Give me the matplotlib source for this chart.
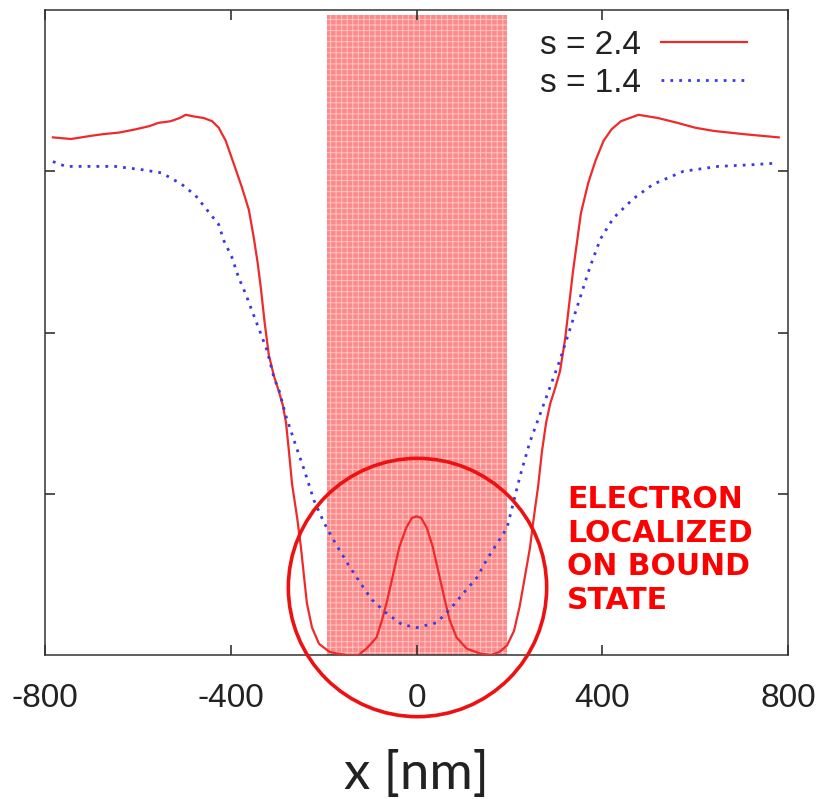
import matplotlib
matplotlib.use("Agg")
import matplotlib.pyplot as plt

plt.rcParams["axes.unicode_minus"] = False
plt.rcParams["hatch.linewidth"] = 0.7

# s = 2.4 (solid red)
x_red = [-783, -744, -700, -675, -640, -605, -575, -556, -530, -510, -497, -480, -458,
         -440, -426, -411, -394, -376, -361, -350, -342, -335, -327, -318, -307, -297,
         -288, -281, -275, -268, -257, -249, -242, -236, -225, -210, -188, -173, -150,
         -125, -108, -95, -86, -74, -63, -52, -37, -22, -10, 0, 10, 22, 35, 50, 61, 71,
         86, 108, 136, 160, 179, 195, 210, 222, 233, 244, 252, 262, 270, 279, 288, 298,
         309, 320, 337, 354, 370, 386, 403, 420, 440, 478, 520, 562, 600, 640, 705, 780]
y_red = [3.21, 3.20, 3.22, 3.23, 3.24, 3.26, 3.28, 3.30, 3.31, 3.33, 3.35, 3.34, 3.33,
         3.31, 3.27, 3.19, 3.05, 2.90, 2.76, 2.58, 2.43, 2.27, 2.06, 1.86, 1.73, 1.64,
         1.55, 1.44, 1.27, 1.06, 0.85, 0.67, 0.48, 0.32, 0.17, 0.07, 0.02, 0.01, 0.00,
         0.00, 0.04, 0.08, 0.11, 0.22, 0.34, 0.48, 0.67, 0.79, 0.85, 0.86, 0.85, 0.79,
         0.67, 0.48, 0.34, 0.22, 0.11, 0.04, 0.01, 0.00, 0.02, 0.06, 0.15, 0.30, 0.48,
         0.66, 0.84, 1.05, 1.26, 1.44, 1.56, 1.65, 1.76, 1.96, 2.38, 2.74, 2.93, 3.07,
         3.19, 3.26, 3.31, 3.35, 3.33, 3.30, 3.27, 3.25, 3.23, 3.21]

# s = 1.4 (dotted blue)
x_blue = [-783, -755, -722, -649, -592, -549, -506, -476, -454, -426, -415, -398, -383,
          -368, -355, -339, -322, -307, -296, -281, -259, -242, -221, -199, -184, -166,
          -149, -140, -117, -95, -65, -32, 0, 43, 71, 100, 130, 151, 173, 195, 223, 244,
          272, 309, 346, 374, 396, 424, 467, 510, 575, 649, 720, 774]
y_blue = [3.06, 3.03, 3.03, 3.03, 3.01, 2.99, 2.92, 2.85, 2.77, 2.67, 2.57, 2.47, 2.34,
          2.24, 2.14, 2.02, 1.89, 1.72, 1.64, 1.48, 1.29, 1.15, 0.96, 0.82, 0.74, 0.65,
          0.57, 0.53, 0.43, 0.34, 0.26, 0.19, 0.17, 0.20, 0.28, 0.38, 0.48, 0.59, 0.69,
          0.79, 1.11, 1.32, 1.54, 1.83, 2.16, 2.41, 2.58, 2.71, 2.83, 2.92, 3.00, 3.03,
          3.04, 3.05]

band_left, band_right, band_top = -192, 194, 3.97
circle_x, circle_y = 0, 0.42

fig = plt.figure(figsize=(8.23, 7.99), dpi=100)
ax = fig.add_axes([0.0547, 0.1802, 0.9028, 0.8073])

# shaded well region
ax.fill_between([band_left, band_right], 0, band_top, facecolor="#fd8a8a",
                edgecolor="#ffc4c4", hatch="+++", linewidth=0, zorder=1)

ax.plot(x_red, y_red, color="#ee2a2a", lw=1.6, label="s = 2.4", zorder=3)
ax.plot(x_blue, y_blue, color="#3a3ae0", lw=2.0, ls=(0, (1, 2.2)), label="s = 1.4", zorder=3)

# big circle around the bound state
ax.plot(circle_x, circle_y, marker="o", markersize=186, mfc="none", mec="#ee1111",
        mew=2.6, clip_on=False, zorder=4)

ax.set_xlim(-800, 800)
ax.set_ylim(0, 4)
ax.set_xticks([-800, -400, 0, 400, 800])
ax.set_yticks([1, 2, 3])
ax.set_yticklabels([])
ax.tick_params(direction="in", length=7, width=1.1, top=True, right=True,
               color="#222222", pad=20)
for lab in ax.get_xticklabels():
    lab.set_fontfamily("Liberation Sans")
    lab.set_fontsize(24)
    lab.set_color("#222222")
for sp in ax.spines.values():
    sp.set_linewidth(1.1)
    sp.set_color("#333333")

ax.set_xlabel("x [nm]", fontfamily="Lato", fontsize=38, color="#222222", labelpad=26)

leg = ax.legend(loc="upper right", bbox_to_anchor=(0.972, 1.0), frameon=False,
                markerfirst=False, prop={"family": "Liberation Sans", "size": 24},
                handlelength=2.6, handletextpad=0.6, labelspacing=0.2, borderpad=0.1)
for t in leg.get_texts():
    t.set_color("#222222")

ax.text(0.703, 0.163, "ELECTRON\nLOCALIZED\nON BOUND\nSTATE", transform=ax.transAxes,
        color="#ff0000", fontsize=21.5, fontweight="bold", fontfamily="DejaVu Sans",
        ha="left", va="center", linespacing=1.2)

fig.savefig("out.png", dpi=100)
